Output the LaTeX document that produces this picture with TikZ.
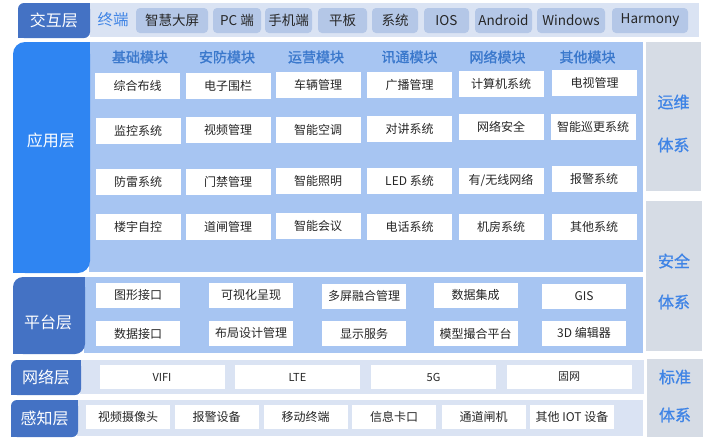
\documentclass[tikz,border=0pt]{standalone}
\usepackage{fontspec}
\setmainfont{Noto Sans CJK SC}
\newfontfamily\headfont[FakeBold=1.2]{Noto Sans CJK SC}
\definecolor{darkblue}{HTML}{4472C4}
\definecolor{appblue}{HTML}{2F85F2}
\definecolor{apppanel}{HTML}{A7C5F2}
\definecolor{lightband}{HTML}{DAE3F3}
\definecolor{topitem}{HTML}{B4C7E7}
\definecolor{graypanel}{HTML}{D6DCE5}
\definecolor{headblue}{HTML}{3A78CC}
\definecolor{sideblue}{HTML}{3F84E5}
\definecolor{itemtext}{HTML}{262626}
\newcommand\lyrbox[6]{%
  \fill[#6, rounded corners=#5pt] (#1,#2) rectangle (#3,#4);
  \fill[#6] ({#3-#5-1},#2) rectangle (#3,{#2+#5+1});
  \fill[#6] (#1,{#4-#5-1}) rectangle ({#1+#5+1},#4);
}
\tikzset{
  item/.style={fill=white, minimum width=85pt, minimum height=26pt, inner sep=0pt,
    font=\fontsize{12}{12}\selectfont, text=itemtext},
  platitem/.style={item, minimum width=84pt, minimum height=25pt},
  netitem/.style={item, minimum width=125pt, minimum height=24pt, font=\fontsize{11}{11}\selectfont},
  senseitem/.style={item, minimum width=84pt, minimum height=24pt},
  topbox/.style={fill=topitem, rounded corners=4pt, minimum height=25pt, inner sep=0pt,
    font=\fontsize{13.5}{13.5}\selectfont, text=itemtext},
  layertext/.style={text=white, inner sep=0pt, font=\fontsize{16}{16}\selectfont},
  headtext/.style={text=headblue, inner sep=0pt, font=\headfont\fontsize{14}{14}\selectfont},
  sidetext/.style={text=sideblue, inner sep=0pt, font=\headfont\fontsize{16}{16}\selectfont},
}
\begin{document}
\begin{tikzpicture}[x=1pt,y=-1pt]
\useasboundingbox (0,0) rectangle (710,437);
\fill[white] (0,0) rectangle (710,437);
% bands and panels
\fill[lightband] (90,3) rectangle (699,37);
\fill[apppanel] (89,42) rectangle (643,272);
\fill[apppanel] (84,277) rectangle (643,353);
\fill[lightband] (80,360) rectangle (644,394);
\fill[lightband] (77,400) rectangle (643,436);
\fill[graypanel] (646,42) rectangle (701,191);
\fill[graypanel] (646,201) rectangle (702,351);
\fill[graypanel] (647,359) rectangle (703,437);
% layer boxes
\lyrbox{18}{3}{90}{38}{6}{darkblue}
\lyrbox{13}{42}{90}{273}{12}{appblue}
\lyrbox{13}{277}{85}{354}{10}{darkblue}
\lyrbox{11}{360}{81}{395}{6}{darkblue}
\lyrbox{11}{400}{78}{437}{6}{darkblue}
\node[layertext] (Ljh) at (54,20.5) {交互层};
\node[layertext] (Lyy) at (51,140) {应用层};
\node[layertext] (Lpt) at (48,322) {平台层};
\node[layertext] (Lwl) at (46,377.5) {网络层};
\node[layertext] (Lgz) at (44.5,418) {感知层};
% side systems
\node[sidetext] (Sa1) at (673.5,102) {运维};
\node[sidetext] (Sa2) at (673.5,145) {体系};
\node[sidetext] (Sb1) at (674,261) {安全};
\node[sidetext] (Sb2) at (674,302) {体系};
\node[sidetext] (Sc1) at (675,377) {标准};
\node[sidetext] (Sc2) at (675,415) {体系};
% top terminals
\node[text=sideblue, inner sep=0pt, font=\fontsize{15.5}{15.5}\selectfont] (Tzd) at (113,20) {终端};
\node[topbox, minimum width=72pt] (T1) at (172,20.5) {智慧大屏};
\node[topbox, minimum width=48pt] (T2) at (237,20.5) {PC 端};
\node[topbox, minimum width=47pt] (T3) at (288.5,20.5) {手机端};
\node[topbox, minimum width=49pt] (T4) at (342.5,20.5) {平板};
\node[topbox, minimum width=46pt] (T5) at (395,20.5) {系统};
\node[topbox, minimum width=45pt] (T6) at (446.5,20.5) {IOS};
\node[topbox, minimum width=57pt] (T7) at (503.5,20.5) {Android};
\node[topbox, minimum width=68pt] (T8) at (571,20.5) {Windows};
\node[topbox, minimum width=76pt] (T9) at (650,20.5) {Harmony};
% module headers
\node[headtext] (H1) at (140,57) {基础模块};
\node[headtext] (H2) at (227,57) {安防模块};
\node[headtext] (H3) at (316,57) {运营模块};
\node[headtext] (H4) at (409.5,57) {讯通模块};
\node[headtext] (H5) at (497.5,57) {网络模块};
\node[headtext] (H6) at (587.5,57) {其他模块};
% application items
\node[item] (A11) at (137.5,85.5) {综合布线};
\node[item] (A12) at (228,85.5) {电子围栏};
\node[item] (A13) at (318,85) {车辆管理};
\node[item] (A14) at (409.5,84.5) {广播管理};
\node[item] (A15) at (501,84) {计算机系统};
\node[item] (A16) at (594.5,82.5) {电视管理};
\node[item] (A21) at (138,131) {监控系统};
\node[item] (A22) at (228,130) {视频管理};
\node[item] (A23) at (318,129.5) {智能空调};
\node[item] (A24) at (409.5,128.5) {对讲系统};
\node[item] (A25) at (501,127) {网络安全};
\node[item] (A26) at (593,126.5) {智能巡更系统};
\node[item] (A31) at (138,181.5) {防雷系统};
\node[item] (A32) at (228,181.5) {门禁管理};
\node[item] (A33) at (318,180.5) {智能照明};
\node[item] (A34) at (409.5,180.5) {LED 系统};
\node[item] (A35) at (501,180.5) {有/无线网络};
\node[item] (A36) at (594,179) {报警系统};
\node[item] (A41) at (138,227) {楼宇自控};
\node[item] (A42) at (228,226.5) {道闸管理};
\node[item] (A43) at (318,226) {智能会议};
\node[item] (A44) at (409.5,227) {电话系统};
\node[item] (A45) at (501,227) {机房系统};
\node[item] (A46) at (594,227) {其他系统};
% platform items
\node[platitem] (P11) at (138,295) {图形接口};
\node[platitem] (P12) at (251,295) {可视化呈现};
\node[platitem] (P13) at (364,296) {多屏融合管理};
\node[platitem] (P14) at (475.5,295) {数据集成};
\node[platitem] (P15) at (584,296.5) {GIS};
\node[platitem] (P21) at (138,333.5) {数据接口};
\node[platitem] (P22) at (251,333) {布局设计管理};
\node[platitem] (P23) at (364,333.5) {显示服务};
\node[platitem] (P24) at (475.5,333.5) {模型撮合平台};
\node[platitem] (P25) at (584,333) {3D 编辑器};
% network items
\node[netitem] (N1) at (162,377) {VIFI};
\node[netitem] (N2) at (297.5,377) {LTE};
\node[netitem] (N3) at (433.5,377) {5G};
\node[netitem] (N4) at (569,377) {固网};
% perception items
\node[senseitem] (G1) at (128,417) {视频摄像头};
\node[senseitem] (G2) at (216.5,416.5) {报警设备};
\node[senseitem] (G3) at (305.5,417) {移动终端};
\node[senseitem] (G4) at (394,416.5) {信息卡口};
\node[senseitem] (G5) at (483.5,416.5) {通道闸机};
\node[senseitem] (G6) at (572,416.5) {其他 IOT 设备};
\end{tikzpicture}
\end{document}
